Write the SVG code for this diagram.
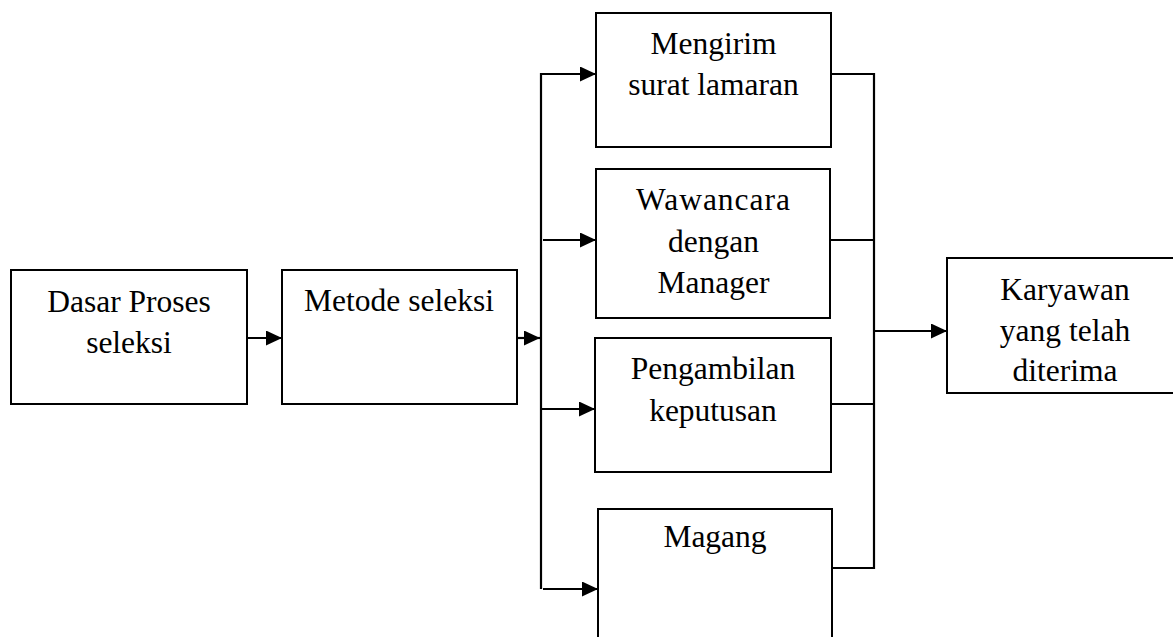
<svg xmlns="http://www.w3.org/2000/svg" width="1173" height="637" viewBox="0 0 1173 637">
<style>
.box{fill:#fff;stroke:#000;stroke-width:2}
.t{font-family:"Liberation Serif","Times New Roman",serif;font-size:31.5px;fill:#000;text-anchor:middle}
.c{fill:none;stroke:#000;stroke-width:2.2}
</style>
<defs>
<marker id="ah" markerUnits="userSpaceOnUse" markerWidth="16" markerHeight="15" refX="16" refY="7.5" orient="auto">
<path d="M0,0 L16,7.5 L0,15 z" fill="#000"/>
</marker>
</defs>
<rect width="1173" height="637" fill="#fff"/>
<g id="connectors">
<line class="c" x1="247" y1="338" x2="282" y2="338" marker-end="url(#ah)"/>
<line class="c" x1="517" y1="338" x2="540" y2="338" marker-end="url(#ah)"/>
<line class="c" x1="541" y1="73" x2="541" y2="589"/>
<line class="c" x1="540" y1="74" x2="596" y2="74" marker-end="url(#ah)"/>
<line class="c" x1="543" y1="240" x2="596" y2="240" marker-end="url(#ah)"/>
<line class="c" x1="541" y1="409" x2="595" y2="409" marker-end="url(#ah)"/>
<line class="c" x1="543" y1="589" x2="598" y2="589" marker-end="url(#ah)"/>
<line class="c" x1="831" y1="74" x2="875" y2="74"/>
<line class="c" x1="830" y1="240" x2="874" y2="240"/>
<line class="c" x1="831" y1="404" x2="874" y2="404"/>
<line class="c" x1="831" y1="568" x2="874" y2="568"/>
<line class="c" x1="874" y1="73" x2="874" y2="569"/>
<line class="c" x1="874" y1="331" x2="947" y2="331" marker-end="url(#ah)"/>
</g>
<g id="dasar">
<rect class="box" x="11" y="270" width="236" height="134"/>
<text class="t" x="129" y="312">Dasar Proses</text>
<text class="t" x="129" y="353">seleksi</text>
</g>
<g id="metode">
<rect class="box" x="282" y="270" width="235" height="134"/>
<text class="t" x="399" y="311">Metode seleksi</text>
</g>
<g id="mengirim">
<rect class="box" x="596" y="13" width="235" height="134"/>
<text class="t" x="713.5" y="54">Mengirim</text>
<text class="t" x="713.5" y="95">surat lamaran</text>
</g>
<g id="wawancara">
<rect class="box" x="596" y="169" width="234" height="149"/>
<text class="t" x="713.5" y="210" letter-spacing="1">Wawancara</text>
<text class="t" x="713.5" y="252">dengan</text>
<text class="t" x="713.5" y="293">Manager</text>
</g>
<g id="pengambilan">
<rect class="box" x="595" y="338" width="236" height="134"/>
<text class="t" x="713" y="379">Pengambilan</text>
<text class="t" x="713" y="421">keputusan</text>
</g>
<g id="magang">
<rect class="box" x="598" y="509" width="234" height="150"/>
<text class="t" x="715" y="547">Magang</text>
</g>
<g id="karyawan">
<rect class="box" x="947" y="258" width="240" height="135"/>
<text class="t" x="1065" y="300">Karyawan</text>
<text class="t" x="1065" y="341">yang telah</text>
<text class="t" x="1065" y="381">diterima</text>
</g>
</svg>
